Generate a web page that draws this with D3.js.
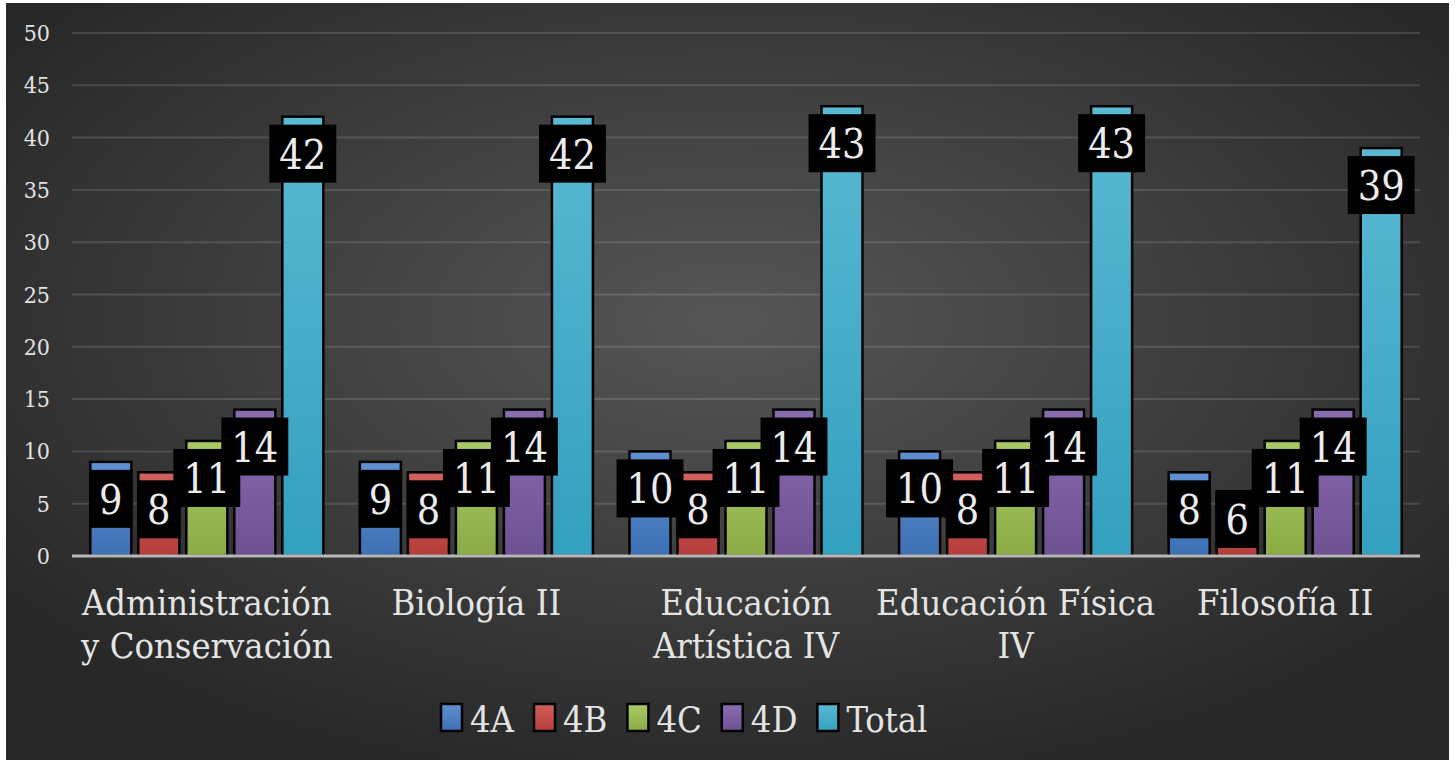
<!DOCTYPE html>
<html>
<head>
<meta charset="utf-8">
<script src="https://cdn.jsdelivr.net/npm/d3@7"></script>
<style>
  html, body { margin: 0; padding: 0; background: #fff; }
  svg { display: block; }
  svg text { font-stretch: semi-condensed; }
</style>
</head>
<body>
<svg id="chart" width="1455" height="763"></svg>
<script>
// Data
const categories = [
    'Administración\ny Conservación',
    'Biología II',
    'Educación\nArtística IV',
    'Educación Física\nIV',
    'Filosofía II'
];
const seriesNames = ['4A', '4B', '4C', '4D', 'Total'];
const values4A = [9, 9, 10, 10, 8];
const values4B = [8, 8, 8, 8, 6];
const values4C = [11, 11, 11, 11, 11];
const values4D = [14, 14, 14, 14, 14];
const valuesTotal = [42, 42, 43, 43, 39];
const yTicks = [0, 5, 10, 15, 20, 25, 30, 35, 40, 45, 50];

const seriesValues = [values4A, values4B, values4C, values4D, valuesTotal];
const colors = {
    '4A':    ['#5f91d2', '#3d6fb4'],
    '4B':    ['#d2605c', '#b53d39'],
    '4C':    ['#a9ca64', '#8bac45'],
    '4D':    ['#8a6cb0', '#6e5193'],
    'Total': ['#5ab9d3', '#33a0bf']
};
const fontFamily = "'DejaVu Serif Condensed', 'DejaVu Serif', serif";

const svg = d3.select('#chart').attr('font-family', fontFamily);
const defs = svg.append('defs');

// background gradient
const bg = defs.append('radialGradient').attr('id', 'bg')
    .attr('cx', '50%').attr('cy', '42%').attr('r', '62%');
bg.append('stop').attr('offset', '0%').attr('stop-color', '#565656');
bg.append('stop').attr('offset', '100%').attr('stop-color', '#282828');

seriesNames.forEach((s, i) => {
    const lg = defs.append('linearGradient').attr('id', 'g' + i)
        .attr('x1', 0).attr('y1', 0).attr('x2', 0).attr('y2', 1);
    lg.append('stop').attr('offset', '0%').attr('stop-color', colors[s][0]);
    lg.append('stop').attr('offset', '100%').attr('stop-color', colors[s][1]);
});

svg.append('rect')
    .attr('x', 6).attr('y', 3).attr('width', 1443).attr('height', 757)
    .attr('fill', 'url(#bg)');

const plotLeft = 72, plotRight = 1420, plotTop = 33, plotBottom = 556;

const y = d3.scaleLinear().domain([0, 50]).range([plotBottom, plotTop]);
const x0 = d3.scaleBand().domain(categories).range([plotLeft, plotRight])
    .paddingInner(0.1357).paddingOuter(0.0679);
const x1 = d3.scaleBand().domain(seriesNames).range([0, x0.bandwidth()])
    .paddingInner(0.146);

// gridlines
svg.append('g').selectAll('line')
    .data(yTicks.filter(d => d > 0))
    .enter().append('line')
    .attr('x1', plotLeft).attr('x2', plotRight)
    .attr('y1', d => y(d)).attr('y2', d => y(d))
    .attr('stroke', 'rgba(255,255,255,0.13)')
    .attr('stroke-width', 2);

// y labels
svg.append('g').selectAll('text')
    .data(yTicks)
    .enter().append('text')
    .attr('x', 50).attr('y', d => y(d) + 8)
    .attr('text-anchor', 'end')
    .attr('font-size', '23px')
    .attr('fill', '#e2e2e2')
    .text(d => d);

// bars
const rows = [];
categories.forEach((c, ci) => {
    seriesNames.forEach((s, si) => {
        rows.push({ cat: c, series: s, si: si, value: seriesValues[si][ci] });
    });
});

svg.append('g').selectAll('rect')
    .data(rows)
    .enter().append('rect')
    .attr('x', d => x0(d.cat) + x1(d.series))
    .attr('y', d => y(d.value))
    .attr('width', x1.bandwidth())
    .attr('height', d => y(0) - y(d.value))
    .attr('fill', d => 'url(#g' + d.si + ')')
    .attr('stroke', '#000')
    .attr('stroke-width', 2.5);

// axis line
svg.append('line')
    .attr('x1', plotLeft).attr('x2', plotRight)
    .attr('y1', plotBottom).attr('y2', plotBottom)
    .attr('stroke', '#b8b8b8').attr('stroke-width', 3);

// data labels (black boxes)
const labels = svg.append('g').selectAll('g')
    .data(rows)
    .enter().append('g');

labels.each(function(d) {
    const g = d3.select(this);
    const cx = x0(d.cat) + x1(d.series) + x1.bandwidth() / 2;
    const t = g.append('text')
        .attr('text-anchor', 'middle')
        .attr('font-size', '41px')
        .attr('fill', '#ececec')
        .text(d.value);
    const w = t.node().getComputedTextLength() + 20;
    const h = 58;
    let boxTop = y(d.value) + 8;
    if (boxTop + h > plotBottom - 8) boxTop = plotBottom - 8 - h;
    g.insert('rect', 'text')
        .attr('x', cx - w / 2).attr('y', boxTop)
        .attr('width', w).attr('height', h)
        .attr('fill', '#000');
    t.attr('x', cx).attr('y', boxTop + h / 2 + 15);
});

// category labels
svg.append('g').selectAll('text')
    .data(categories)
    .enter().append('text')
    .attr('text-anchor', 'middle')
    .attr('font-size', '36px')
    .attr('fill', '#e4e4e4')
    .each(function(c) {
        const t = d3.select(this);
        c.split('\n').forEach((line, i) => {
            t.append('tspan')
                .attr('x', x0(c) + x0.bandwidth() / 2)
                .attr('y', 615 + i * 43)
                .text(line);
        });
    });

// legend
const legend = svg.append('g');
let lx = 441;
seriesNames.forEach((s, i) => {
    legend.append('rect')
        .attr('x', lx).attr('y', 704)
        .attr('width', 21).attr('height', 27)
        .attr('fill', 'url(#g' + i + ')')
        .attr('stroke', '#000').attr('stroke-width', 2.5);
    const t = legend.append('text')
        .attr('x', lx + 29).attr('y', 732)
        .attr('font-size', '36px')
        .attr('fill', '#e4e4e4')
        .text(s);
    lx += 29 + t.node().getComputedTextLength() + 20;
});
</script>
</body>
</html>
